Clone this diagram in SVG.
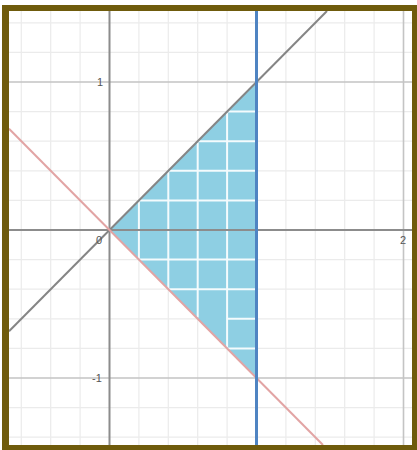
<svg xmlns="http://www.w3.org/2000/svg" width="417" height="450" viewBox="0 0 417 450">
  <style>
    .minor { stroke: #ebebeb; stroke-width: 1.2; fill: none; }
    .major { stroke: #c4c4c4; stroke-width: 1.6; fill: none; }
    .axis { stroke: #8c8c8c; stroke-width: 2; fill: none; }
    .wgrid { stroke: #f4fbfd; stroke-width: 2; fill: none; }
    .lbl { font-family: "Liberation Sans", Arial, sans-serif; font-size: 11px; fill: #555; }
  </style>
  <rect x="0" y="0" width="417" height="450" fill="#ffffff"/>
  <g id="minor-grid" class="minor">
    <path d="M21.3 11V445M50.7 11V445M80.1 11V445M138.9 11V445M168.3 11V445M197.7 11V445M227.1 11V445M285.9 11V445M315.3 11V445M344.7 11V445M374.1 11V445"/>
    <path d="M9 22.8H412M9 52.4H412M9 111.6H412M9 141.2H412M9 170.8H412M9 200.4H412M9 259.6H412M9 289.2H412M9 318.8H412M9 348.4H412M9 407.6H412M9 437.2H412"/>
  </g>
  <g id="major-grid" class="major">
    <path d="M9 82H412M9 378H412M403.5 11V445"/>
  </g>
  <g id="region">
    <polygon points="109.5,230 256.5,82 256.5,378" fill="#8ecfe3"/>
    <g class="wgrid">
      <path d="M138.9 201.5V258.5M168.3 172V288M197.7 142.5V317.5M227.1 113V347"/>
      <path d="M139 200.4H255M168.3 170.8H255M197.7 141.2H255M227.1 111.6H255"/>
      <path d="M139 259.6H255M168.3 289.2H255M227.1 318.8H255M227.1 348.4H255"/>
    </g>
  </g>
  <g id="axes" class="axis">
    <path d="M9 230H412"/>
    <path d="M109.5 11V445"/>
  </g>
  <g id="connectors">
    <line id="line-y-eq-x" x1="9" y1="331.2" x2="327" y2="11" stroke="#858585" stroke-width="2"/>
    <line id="line-y-eq-negx" x1="9" y1="128.8" x2="323" y2="445" stroke="#e2a4a4" stroke-width="2"/>
    <line id="line-x-eq-1" x1="256.5" y1="11" x2="256.5" y2="445" stroke="#4f84c2" stroke-width="3"/>
  </g>
  <g id="labels" class="lbl">
    <text x="97" y="86">1</text>
    <text x="96" y="244">0</text>
    <text x="92" y="382">-1</text>
    <text x="400" y="244">2</text>
  </g>
  <path id="frame" fill="#6f5b0c" fill-rule="evenodd" d="M2 5H417V450H2Z M9 11V445H412V11Z"/>
</svg>
